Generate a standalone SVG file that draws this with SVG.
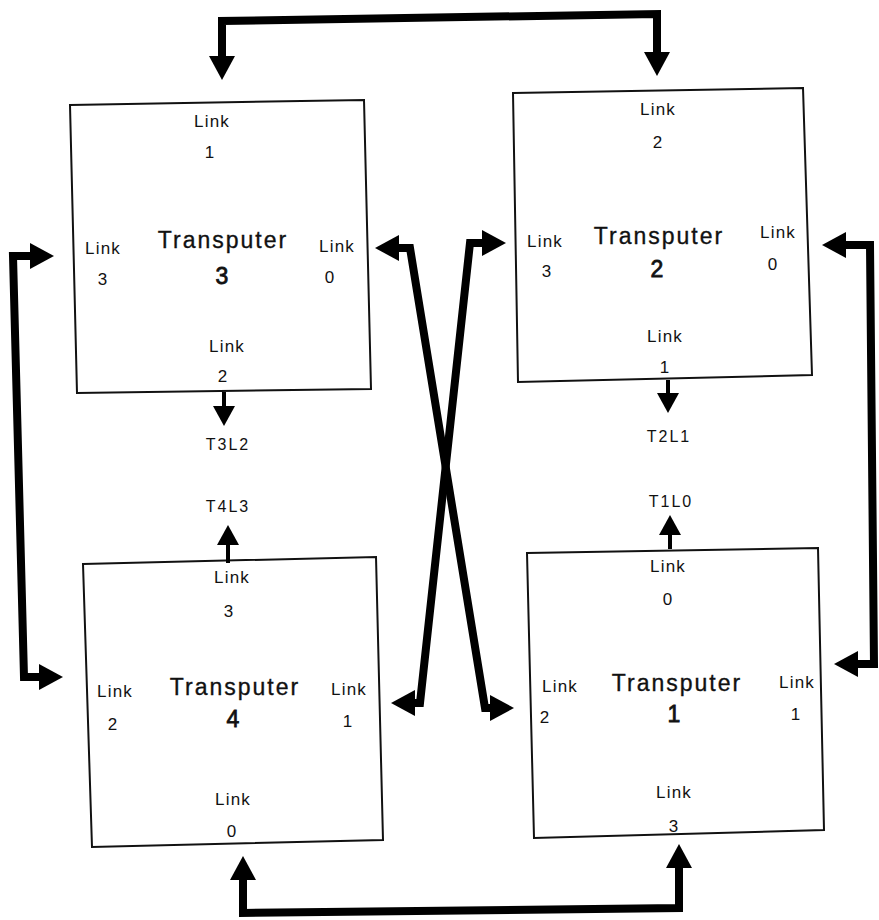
<svg xmlns="http://www.w3.org/2000/svg" width="879" height="920" viewBox="0 0 879 920">
<style>
text{font-family:"Liberation Sans",Arial,sans-serif;fill:#111;text-anchor:middle}
.lk{font-size:17px;letter-spacing:1.2px}
.tp{font-size:23px;letter-spacing:2px;stroke:#111;stroke-width:0.35px}
.big{font-size:23px;stroke:#111;stroke-width:0.8px}
.lb{font-size:16px;letter-spacing:2px}
.box{fill:#fff;stroke:#111;stroke-width:2}
.con{fill:none;stroke:#000;stroke-width:8;stroke-linejoin:miter}
.sm{fill:none;stroke:#000;stroke-width:4}
.bigc{marker-start:url(#hb);marker-end:url(#hb)}
</style>
<defs>
<marker id="hb" markerUnits="userSpaceOnUse" viewBox="0 -13 24 26" refX="1" refY="0" markerWidth="24" markerHeight="26" orient="auto-start-reverse" overflow="visible">
<path d="M0,-13 L24,0 L0,13 z" fill="#000"/>
</marker>
<marker id="hs" markerUnits="userSpaceOnUse" viewBox="0 -11 20 22" refX="1" refY="0" markerWidth="20" markerHeight="22" orient="auto" overflow="visible">
<path d="M0,-11 L20,0 L0,11 z" fill="#000"/>
</marker>
</defs>
<rect width="879" height="920" fill="#fff"/>

<g id="t3">
<polygon class="box" points="70,105 364,100 371,389 77,393"/>
<text class="lk" x="212" y="127">Link</text>
<text class="lk" x="210" y="158">1</text>
<text class="lk" x="103" y="254">Link</text>
<text class="lk" x="103" y="285">3</text>
<text class="tp" x="223" y="248">Transputer</text>
<text class="big" x="222" y="284">3</text>
<text class="lk" x="337" y="252">Link</text>
<text class="lk" x="330" y="283">0</text>
<text class="lk" x="227" y="352">Link</text>
<text class="lk" x="223" y="382">2</text>
</g>

<g id="t2">
<polygon class="box" points="513,93 803,88 812,375 518,382"/>
<text class="lk" x="658" y="115">Link</text>
<text class="lk" x="658" y="148">2</text>
<text class="lk" x="545" y="247">Link</text>
<text class="lk" x="547" y="277">3</text>
<text class="tp" x="659" y="244">Transputer</text>
<text class="big" x="657" y="277">2</text>
<text class="lk" x="778" y="238">Link</text>
<text class="lk" x="773" y="270">0</text>
<text class="lk" x="665" y="342">Link</text>
<text class="lk" x="665" y="373">1</text>
</g>

<g id="t4">
<polygon class="box" points="83,564 376,557 383,840 92,847"/>
<text class="lk" x="232" y="583">Link</text>
<text class="lk" x="229" y="617">3</text>
<text class="lk" x="115" y="697">Link</text>
<text class="lk" x="113" y="730">2</text>
<text class="tp" x="235" y="695">Transputer</text>
<text class="big" x="233" y="727">4</text>
<text class="lk" x="349" y="695">Link</text>
<text class="lk" x="348" y="727">1</text>
<text class="lk" x="233" y="805">Link</text>
<text class="lk" x="232" y="837">0</text>
</g>

<g id="t1">
<polygon class="box" points="527,553 818,548 824,830 534,838"/>
<text class="lk" x="668" y="572">Link</text>
<text class="lk" x="668" y="605">0</text>
<text class="lk" x="560" y="692">Link</text>
<text class="lk" x="545" y="723">2</text>
<text class="tp" x="677" y="691">Transputer</text>
<text class="big" x="674" y="722">1</text>
<text class="lk" x="797" y="688">Link</text>
<text class="lk" x="796" y="720">1</text>
<text class="lk" x="674" y="798">Link</text>
<text class="lk" x="674" y="832">3</text>
</g>

<g id="labels">
<text class="lb" x="228" y="450">T3L2</text>
<text class="lb" x="228" y="512">T4L3</text>
<text class="lb" x="669" y="442">T2L1</text>
<text class="lb" x="671" y="507">T1L0</text>
</g>

<g id="connectors">
<path class="con bigc" d="M222,57 L222,21 L657,14 L657,53"/>
<path class="con bigc" d="M31,256 L13,256 L24,677 L40,677"/>
<path class="con bigc" d="M845,245 L870,245 L874,664 L857,664"/>
<path class="con bigc" d="M243,879 L243,913 L679,908 L679,867"/>
<path class="con bigc" d="M398,248 L410,248 L485,708 L491,708"/>
<path class="con bigc" d="M483,243 L470,243 L420,703 L414,703"/>
<path class="sm" marker-end="url(#hs)" d="M224,392 L224,407"/>
<path class="sm" marker-end="url(#hs)" d="M228,563 L228,544"/>
<path class="sm" marker-end="url(#hs)" d="M668,380 L668,394"/>
<path class="sm" marker-end="url(#hs)" d="M670,549 L670,534"/>
</g>
</svg>
